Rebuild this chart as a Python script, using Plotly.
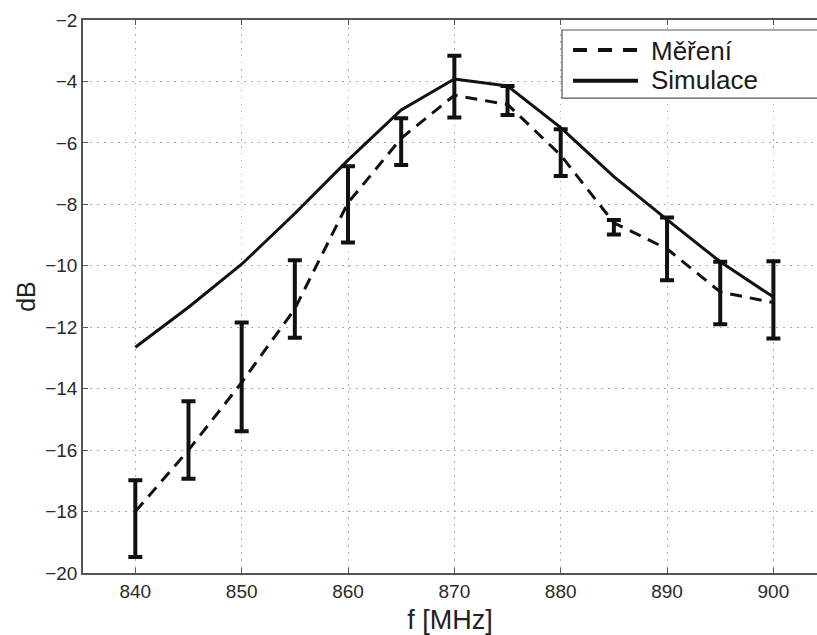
import numpy as np
import plotly.graph_objects as go

freq = [840, 845, 850, 855, 860, 865, 870, 875, 880, 885, 890, 895, 900]
mereni = [-18.0, -16.0, -13.8, -11.4, -7.95, -5.85, -4.45, -4.75, -6.4, -8.6, -9.45, -10.85, -11.2]
mereni_upper = [-16.98, -14.41, -11.85, -9.82, -6.76, -5.2, -3.16, -4.15, -5.56, -8.51, -8.43, -9.87, -9.85]
mereni_lower = [-19.48, -16.93, -15.39, -12.34, -9.24, -6.72, -5.17, -5.09, -7.08, -8.98, -10.47, -11.9, -12.37]
simulace = [-12.65, -11.35, -9.95, -8.3, -6.56, -4.93, -3.92, -4.15, -5.5, -7.1, -8.5, -9.87, -11.02]

x_ticks = [840, 850, 860, 870, 880, 890, 900]
y_ticks = [-2, -4, -6, -8, -10, -12, -14, -16, -18, -20]
legend_labels = ["Měření", "Simulace"]

err_plus = np.array(mereni_upper) - np.array(mereni)
err_minus = np.array(mereni) - np.array(mereni_lower)

fig = go.Figure()
fig.add_trace(go.Scatter(
    x=freq, y=mereni, mode="lines", name=legend_labels[0],
    line=dict(color="#111111", width=3, dash="12px,8px"),
    error_y=dict(type="data", symmetric=False, array=err_plus, arrayminus=err_minus,
                 color="#111111", thickness=4, width=7),
))
fig.add_trace(go.Scatter(
    x=freq, y=simulace, mode="lines", name=legend_labels[1],
    line=dict(color="#111111", width=3),
))

axis_common = dict(
    showline=True, linecolor="#555555", linewidth=1.5,
    ticks="inside", ticklen=5, tickcolor="#555555", tickwidth=1.2,
    showgrid=True, gridcolor="#adadad", gridwidth=1.2, griddash="1.5px,5.5px",
    zeroline=False, automargin=False,
    tickfont=dict(family="Liberation Sans, Arial", size=19, color="#2a2a2a"),
)

fig.update_xaxes(
    range=[835.08, 904.1], tickvals=x_ticks, mirror="ticks", **axis_common,
    title=dict(text="f [MHz]", font=dict(family="Liberation Sans, Arial", size=27, color="#222222"), standoff=13),
)
fig.update_yaxes(
    range=[-20, -2], tickvals=y_ticks, **axis_common,
    title=dict(text="dB", font=dict(family="Liberation Sans, Arial", size=25, color="#222222"), standoff=2),
)

# custom legend box (extends past the right edge as in the original)
fig.add_shape(type="rect", xref="paper", yref="paper", x0=0.6526, x1=1.05, y0=0.8589, y1=0.9819,
              line=dict(color="#555555", width=1.2), fillcolor="white", layer="above")
fig.add_shape(type="line", xref="paper", yref="paper", x0=0.6676, x1=0.7561, y0=0.9457, y1=0.9457,
              line=dict(color="#111111", width=4, dash="14px,11px"), layer="above")
fig.add_shape(type="line", xref="paper", yref="paper", x0=0.6676, x1=0.7561, y0=0.890, y1=0.890,
              line=dict(color="#111111", width=4), layer="above")
for label, yy in zip(legend_labels, [0.9448, 0.8923]):
    fig.add_annotation(xref="paper", yref="paper", x=0.7725, y=yy, xanchor="left", yanchor="middle",
                       text=label, showarrow=False, borderpad=0,
                       font=dict(family="Liberation Sans, Arial", size=26, color="#1a1a1a"))

fig.update_layout(
    width=817, height=635,
    margin=dict(l=83, r=0, t=20, b=62.3),
    plot_bgcolor="white", paper_bgcolor="white",
    showlegend=False,
)

fig.write_html(
    "out.html",
    config={"displayModeBar": False},
    post_script="document.body.style.margin='0';document.body.style.overflow='hidden';",
)
